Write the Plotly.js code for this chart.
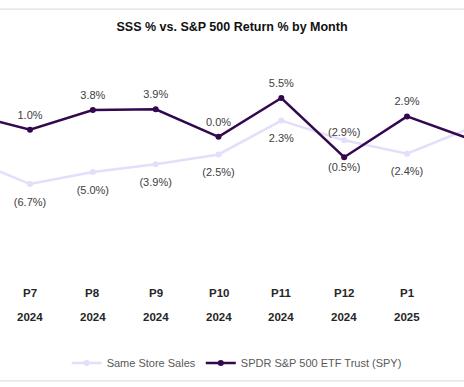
<!DOCTYPE html>
<html>
<head>
<meta charset="utf-8">
<script src="https://cdn.plot.ly/plotly-3.0.1.min.js"></script>
<style>html,body{margin:0;padding:0;background:#fff;}#chart{width:464px;height:387px;}</style>
</head>
<body>
<div id="chart"></div>
<script>
// ---- data ----
const periods = ["P6", "P7", "P8", "P9", "P10", "P11", "P12", "P1", "P2"];
const years   = ["2024", "2024", "2024", "2024", "2024", "2024", "2024", "2025", "2025"];
const sss     = [-3.0, -6.7, -5.0, -3.9, -2.5, 2.3, -0.5, -2.4, 1.2];
const spy     = [3.3, 1.0, 3.8, 3.9, 0.0, 5.5, -2.9, 2.9, -0.3];
const seriesNames = ["Same Store Sales", "SPDR S&P 500 ETF Trust (SPY)"];

// ---- style ----
const FONT = "'Liberation Sans', Arial, sans-serif";
const SPY_COLOR = "#33084f";
const SSS_COLOR = "#e4defa";
const LABEL_COLOR = "#404040";
const LABEL_SIZE = 11;
// labels that were moved further from their point in the original
const labelNudge = { "P12": { spy: 10, sss: 10 } };

function fmt(v) {
  const s = Math.abs(v).toFixed(1) + "%";
  return v < 0 ? "(" + s + ")" : s;
}

const xIdx = periods.map((_, i) => i);
const spyText = spy.map((v, i) => labelNudge[periods[i]] ? "" : fmt(v));
const sssText = sss.map((v, i) => labelNudge[periods[i]] ? "" : fmt(v));

const traces = [
  {
    x: xIdx, y: sss, name: seriesNames[0], type: "scatter", mode: "lines+markers",
    line: { color: SSS_COLOR, width: 2.5 }, marker: { color: SSS_COLOR, size: 6 },
    hoverinfo: "skip"
  },
  {
    x: xIdx, y: spy, name: seriesNames[1], type: "scatter", mode: "lines+markers",
    line: { color: SPY_COLOR, width: 2.5 }, marker: { color: SPY_COLOR, size: 6 },
    hoverinfo: "skip"
  },
  // data labels (invisible markers set the label distance from the point)
  {
    x: xIdx, y: sss, type: "scatter", mode: "markers+text", showlegend: false,
    text: sssText, textposition: "bottom center", cliponaxis: false,
    textfont: { family: FONT, size: LABEL_SIZE, color: LABEL_COLOR },
    marker: { size: 20, opacity: 0 }, hoverinfo: "skip"
  },
  {
    x: xIdx, y: spy, type: "scatter", mode: "markers+text", showlegend: false,
    text: spyText, textposition: "top center", cliponaxis: false,
    textfont: { family: FONT, size: LABEL_SIZE, color: LABEL_COLOR },
    marker: { size: 12, opacity: 0 }, hoverinfo: "skip"
  }
];

const annotations = [];
periods.forEach((p, i) => {
  const n = labelNudge[p];
  if (n) {
    annotations.push({
      x: i, y: spy[i], xref: "x", yref: "y", text: fmt(spy[i]), showarrow: false,
      yanchor: "middle", yshift: 15 + n.spy,
      font: { family: FONT, size: LABEL_SIZE, color: LABEL_COLOR }
    });
    annotations.push({
      x: i, y: sss[i], xref: "x", yref: "y", text: fmt(sss[i]), showarrow: false,
      yanchor: "middle", yshift: -16.5 - n.sss,
      font: { family: FONT, size: LABEL_SIZE, color: LABEL_COLOR }
    });
  }
  annotations.push({
    x: i, y: 0, xref: "x", yref: "paper", text: "<b>" + p + "</b>", showarrow: false,
    yanchor: "middle", yshift: -43,
    font: { family: FONT, size: 11.5, color: "#262626" }
  });
  annotations.push({
    x: i, y: 0, xref: "x", yref: "paper", text: "<b>" + years[i] + "</b>", showarrow: false,
    yanchor: "middle", yshift: -67,
    font: { family: FONT, size: 11.5, color: "#262626" }
  });
});

const layout = {
  width: 464, height: 387,
  margin: { l: 0, r: 0, t: 60, b: 137, pad: 0 },
  paper_bgcolor: "#ffffff", plot_bgcolor: "#ffffff",
  title: {
    text: "<b>SSS % vs. S&P 500 Return % by Month</b>",
    font: { family: FONT, size: 12.5, color: "#111111" },
    x: 0.5, xanchor: "center", xref: "paper",
    y: 1 - 27 / 387, yanchor: "middle", yref: "container"
  },
  xaxis: {
    range: [0.5225, 7.907], showgrid: false, zeroline: false, showline: false,
    showticklabels: false, ticks: "", fixedrange: true
  },
  yaxis: {
    range: [-16.06, 10.9], showgrid: false, zeroline: false, showline: false,
    showticklabels: false, ticks: "", fixedrange: true
  },
  showlegend: true,
  legend: {
    orientation: "h", x: 0.51, xanchor: "center", y: -0.595, yanchor: "middle",
    font: { family: FONT, size: 11, color: "#595959" },
    itemwidth: 30, tracegroupgap: 0, bgcolor: "rgba(0,0,0,0)"
  },
  annotations: annotations,
  shapes: [
    { type: "line", xref: "paper", yref: "paper", x0: -0.1, x1: 1.1, y0: 1.268, y1: 1.268,
      line: { color: "#d9d9d9", width: 1 } },
    { type: "line", xref: "paper", yref: "paper", x0: -0.1, x1: 1.1, y0: -0.689, y1: -0.689,
      line: { color: "#d9d9d9", width: 1 } }
  ]
};

Plotly.newPlot("chart", traces, layout, { displayModeBar: false, staticPlot: true });
</script>
</body>
</html>
